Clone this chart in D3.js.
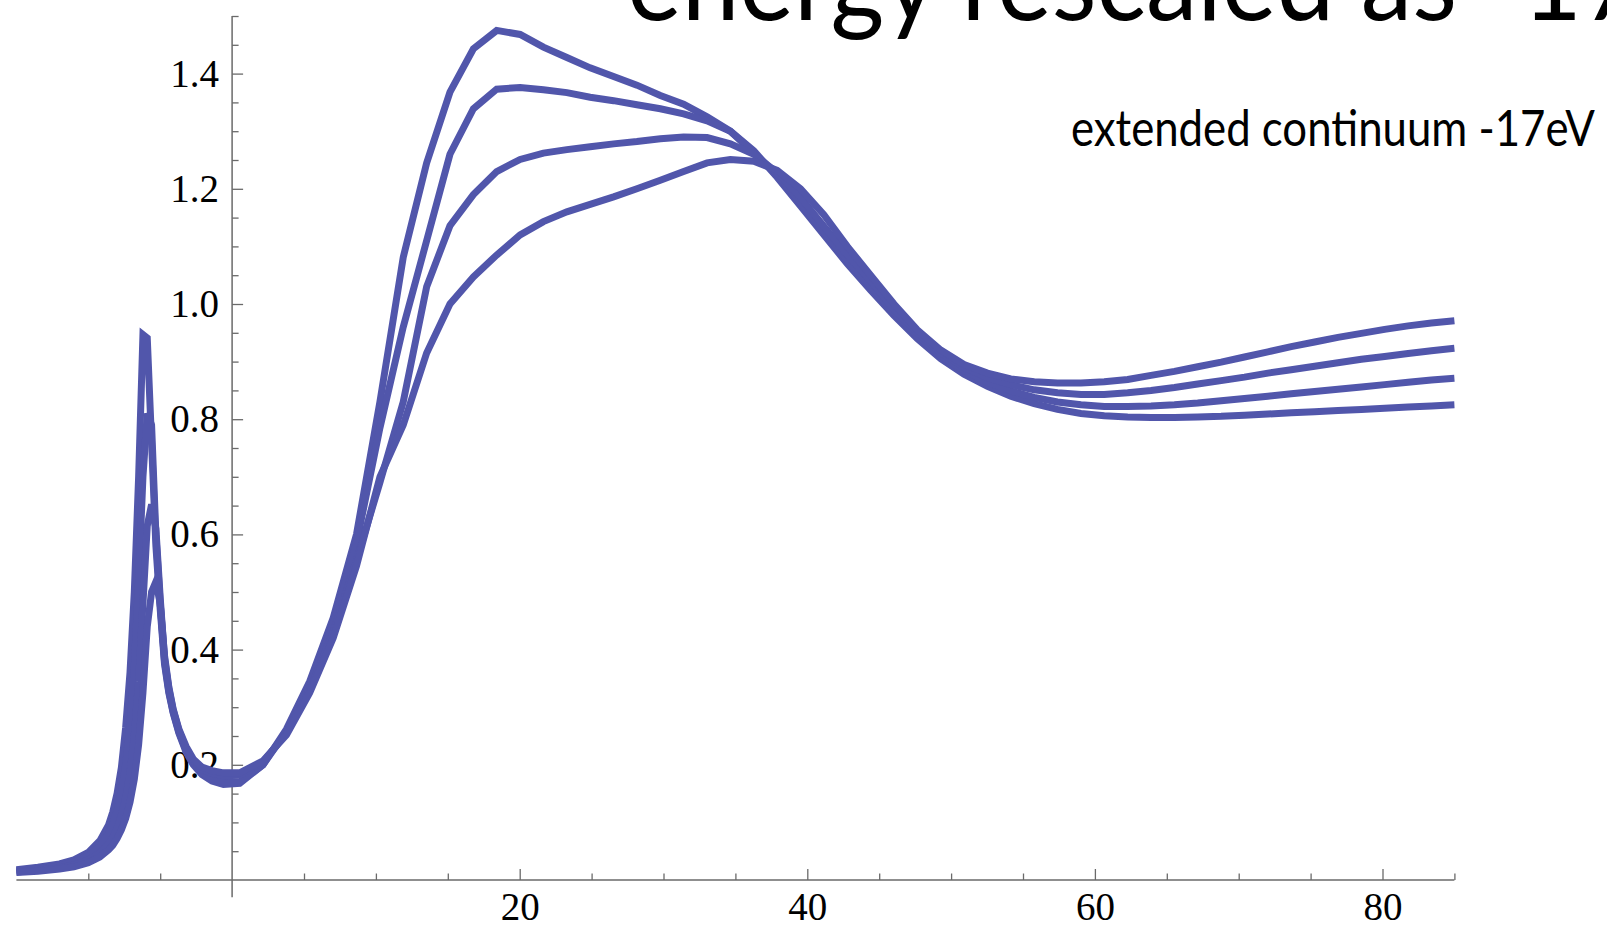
<!DOCTYPE html>
<html><head><meta charset="utf-8">
<script src="https://cdn.jsdelivr.net/npm/d3@7"></script>
<style>html,body{margin:0;padding:0;background:#fff;overflow:hidden}</style>
</head><body>
<svg id="chart" width="1607" height="928"></svg>
<script>
// ---- data ----
const xs = [-15, -13.5, -12, -11, -10, -9.2, -8.6, -8.3, -8.0, -7.7, -7.4, -7.1, -6.8, -6.5, -6.2, -5.9, -5.6, -5.3, -5.0, -4.7, -4.4, -4.1, -3.7, -3.2, -2.7, -2.1, -1.4, -0.6,
  0.53, 2.15, 3.78, 5.4, 7.03, 8.65, 10.28, 11.9, 13.53, 15.15, 16.78, 18.4, 20.03, 21.65, 23.28, 24.9, 26.53, 28.15, 29.78, 31.4, 33.03, 34.65, 36.28, 37.9, 39.53, 41.15, 42.78, 44.4, 46.03, 47.65, 49.28, 50.9, 52.53, 54.15, 55.78, 57.4, 59.03, 60.65, 62.28, 63.9, 65.53, 67.15, 68.78, 70.4, 72.03, 73.65, 75.28, 76.9, 78.53, 80.15, 81.78, 83.4, 85.0];

const seriesA = [0.018, 0.022, 0.028, 0.035, 0.048, 0.068, 0.095, 0.118, 0.15, 0.195, 0.265, 0.36, 0.50, 0.70, 0.947, 0.941, 0.76, 0.58, 0.47, 0.375, 0.325, 0.29, 0.255, 0.222, 0.200, 0.183, 0.172, 0.166,
  0.168, 0.20, 0.262, 0.345, 0.455, 0.60, 0.83, 1.081, 1.245, 1.368, 1.443, 1.475, 1.468, 1.446, 1.428, 1.41, 1.395, 1.38, 1.362, 1.347, 1.325, 1.30, 1.266, 1.22, 1.17, 1.12, 1.07, 1.024, 0.98, 0.94, 0.905, 0.878, 0.857, 0.840, 0.827, 0.817, 0.810, 0.806, 0.804, 0.803, 0.803, 0.804, 0.805, 0.807, 0.809, 0.811, 0.813, 0.815, 0.817, 0.819, 0.821, 0.823, 0.825];

const seriesB = [0.016, 0.019, 0.025, 0.031, 0.042, 0.058, 0.08, 0.097, 0.12, 0.153, 0.20, 0.27, 0.37, 0.52, 0.70, 0.81, 0.79, 0.60, 0.48, 0.38, 0.328, 0.292, 0.257, 0.225, 0.203, 0.187, 0.176, 0.17,
  0.170, 0.20, 0.258, 0.338, 0.445, 0.585, 0.785, 0.96, 1.11, 1.26, 1.339, 1.373, 1.376, 1.372, 1.367, 1.359, 1.353, 1.346, 1.339, 1.33, 1.318, 1.30, 1.262, 1.225, 1.175, 1.125, 1.075, 1.03, 0.985, 0.945, 0.91, 0.884, 0.864, 0.849, 0.838, 0.830, 0.825, 0.822, 0.822, 0.823, 0.825, 0.828, 0.832, 0.836, 0.840, 0.844, 0.848, 0.852, 0.856, 0.860, 0.864, 0.868, 0.871];

const seriesC = [0.014, 0.017, 0.021, 0.026, 0.035, 0.047, 0.062, 0.074, 0.09, 0.112, 0.142, 0.186, 0.25, 0.345, 0.48, 0.615, 0.652, 0.61, 0.49, 0.385, 0.332, 0.295, 0.26, 0.228, 0.207, 0.192, 0.185, 0.181,
  0.182, 0.205, 0.255, 0.33, 0.43, 0.555, 0.69, 0.83, 1.03, 1.136, 1.19, 1.23, 1.251, 1.262, 1.268, 1.273, 1.278, 1.282, 1.287, 1.290, 1.289, 1.278, 1.26, 1.228, 1.185, 1.135, 1.085, 1.04, 0.99, 0.95, 0.915, 0.89, 0.872, 0.86, 0.851, 0.846, 0.843, 0.843, 0.846, 0.850, 0.855, 0.861, 0.867, 0.873, 0.880, 0.886, 0.892, 0.898, 0.904, 0.909, 0.914, 0.919, 0.923];

const seriesD = [0.013, 0.015, 0.019, 0.023, 0.03, 0.04, 0.052, 0.06, 0.072, 0.087, 0.107, 0.135, 0.175, 0.235, 0.325, 0.44, 0.50, 0.518, 0.48, 0.39, 0.335, 0.297, 0.262, 0.232, 0.21, 0.196, 0.19, 0.186,
  0.186, 0.207, 0.252, 0.325, 0.42, 0.545, 0.70, 0.79, 0.915, 1.00, 1.047, 1.085, 1.12, 1.143, 1.16, 1.173, 1.186, 1.20, 1.215, 1.23, 1.245, 1.251, 1.248, 1.232, 1.20, 1.155, 1.10, 1.05, 1.0, 0.955, 0.92, 0.895, 0.88, 0.87, 0.865, 0.863, 0.863, 0.865, 0.869, 0.876, 0.883, 0.891, 0.899, 0.908, 0.917, 0.926, 0.934, 0.942, 0.949, 0.956, 0.962, 0.967, 0.971];

const yMajorTicks = [0.2, 0.4, 0.6, 0.8, 1.0, 1.2, 1.4];
const yMinorTicks = [0.05, 0.1, 0.15, 0.25, 0.3, 0.35, 0.45, 0.5, 0.55, 0.65, 0.7, 0.75, 0.85, 0.9, 0.95, 1.05, 1.1, 1.15, 1.25, 1.3, 1.35, 1.45, 1.5];
const xMajorTicks = [20, 40, 60, 80];
const xMinorTicks = [-10, -5, 5, 10, 15, 25, 30, 35, 45, 50, 55, 65, 70, 75, 85];
const titleText = "energy rescaled as -17";
const labelText = "extended continuum -17eV";

// ---- chart ----
const svg = d3.select("#chart");
const x = d3.scaleLinear().domain([-15, 85]).range([16.4, 1454.4]);
const y = d3.scaleLinear().domain([0, 1.5]).range([880, 16]);
const axisColor = "#6a6a6a";

// title (its top is cut by the upper edge, as in the original slide)
svg.append("text")
  .attr("x", 627).attr("y", 20)
  .attr("font-family", "Lato, 'Open Sans', sans-serif")
  .attr("font-size", 110)
  .attr("textLength", 1015).attr("lengthAdjust", "spacingAndGlyphs")
  .attr("fill", "#000")
  .text(titleText);

// subtitle: fit its natural width to the target span, then stretch vertically
const sub = svg.append("text")
  .attr("x", 0).attr("y", 0)
  .attr("font-family", "Lato, 'Open Sans', sans-serif")
  .attr("font-size", 50)
  .attr("fill", "#000")
  .text(labelText);
const natural = sub.node().getComputedTextLength();
const fitSize = 50 * 524 / natural;
sub.attr("font-size", fitSize)
  .attr("transform", `translate(1071,146) scale(1,${(50 / fitSize).toFixed(3)})`);

// y axis
const gy = svg.append("g").attr("transform", `translate(${x(0)},0)`);
gy.append("g").call(d3.axisLeft(y).tickValues(yMinorTicks).tickSizeInner(-6.5).tickSizeOuter(0).tickFormat(""))
  .call(g => g.select(".domain").remove());
gy.append("g").call(d3.axisLeft(y).tickValues(yMajorTicks).tickSizeInner(-11).tickSizeOuter(0).tickPadding(13).tickFormat(d3.format(".1f")))
  .call(g => g.select(".domain").remove());
gy.append("line").attr("class", "axisline").attr("x1", 0).attr("x2", 0).attr("y1", y(-0.03)).attr("y2", y(1.5));

// x axis
const gx = svg.append("g").attr("transform", `translate(0,${y(0)})`);
gx.append("g").call(d3.axisBottom(x).tickValues(xMinorTicks).tickSizeInner(-6.5).tickSizeOuter(0).tickFormat(""))
  .call(g => g.select(".domain").remove());
gx.append("g").call(d3.axisBottom(x).tickValues(xMajorTicks).tickSizeInner(-11).tickSizeOuter(0).tickPadding(12).tickFormat(d3.format("d")))
  .call(g => g.select(".domain").remove());
gx.append("line").attr("class", "axisline").attr("x1", x(-15)).attr("x2", x(85)).attr("y1", 0).attr("y2", 0);

svg.selectAll(".tick line").attr("stroke", axisColor).attr("stroke-width", 1.3);
svg.selectAll(".axisline").attr("stroke", axisColor).attr("stroke-width", 1.5);
svg.selectAll(".tick text")
  .attr("font-family", "'Liberation Serif', 'Times New Roman', serif")
  .attr("font-size", 39).attr("fill", "#000");

// curves
const allSeries = [seriesA, seriesB, seriesC, seriesD];
const line = d3.line().x((d, i) => x(xs[i])).y(d => y(d));
svg.append("g").selectAll("path").data(allSeries).join("path")
  .attr("d", d => line(d))
  .attr("fill", "none")
  .attr("stroke", "#5156ab")
  .attr("stroke-width", 7)
  .attr("stroke-linejoin", "miter")
  .attr("stroke-miterlimit", 4);
</script>
</body></html>
